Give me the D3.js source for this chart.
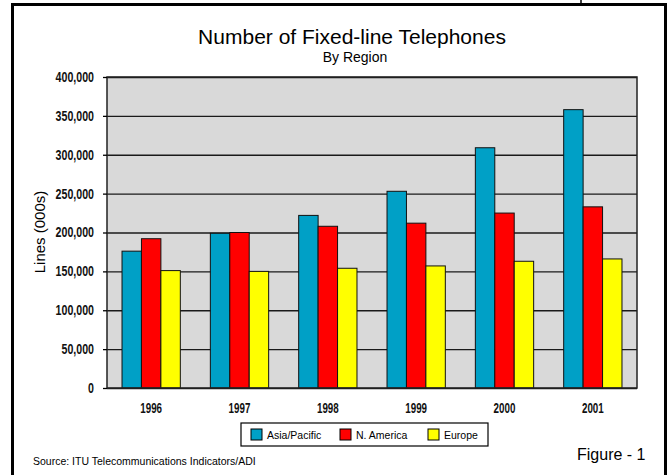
<!DOCTYPE html>
<html>
<head>
<meta charset="utf-8">
<script src="https://cdn.jsdelivr.net/npm/d3@7"></script>
<style>
  body { margin: 0; background: #fff; }
  .tick text { font-family: "Liberation Sans", Arial, sans-serif; font-weight: bold; }
</style>
</head>
<body>
<div id="chart"></div>
<script>
// values in thousands of lines
var years = ['1996', '1997', '1998', '1999', '2000', '2001'];
var series = ['Asia/Pacific', 'N. America', 'Europe'];
var asiaPacific = [176000, 199000, 222000, 253000, 309000, 358000];
var nAmerica = [192000, 200000, 208000, 212000, 225000, 233000];
var europe = [151000, 150000, 154000, 157000, 163000, 166000];
var yTicks = [0, 50000, 100000, 150000, 200000, 250000, 300000, 350000, 400000];
var colors = ['#00a0c6', '#ff0000', '#ffff00'];

var width = 672, height = 475;
var margin = {top: 77, right: 35, bottom: 87, left: 107};

var svg = d3.select('#chart').append('svg')
    .attr('width', width)
    .attr('height', height)
    .style('font-family', 'Liberation Sans, Arial, sans-serif');

// outer frame (open at the bottom, like the scan)
svg.append('path')
    .attr('d', 'M12.5,480 V4.5 H665.5 V480')
    .attr('fill', 'none')
    .attr('stroke', '#000')
    .attr('stroke-width', 3);
svg.append('line')
    .attr('x1', 581).attr('x2', 581).attr('y1', 0).attr('y2', 6)
    .attr('stroke', '#000').attr('stroke-width', 1.5);

svg.append('text')
    .attr('x', 352).attr('y', 44)
    .attr('text-anchor', 'middle')
    .style('font-size', '21px')
    .text('Number of Fixed-line Telephones');
svg.append('text')
    .attr('x', 355).attr('y', 62)
    .attr('text-anchor', 'middle')
    .style('font-size', '14px')
    .text('By Region');

var innerW = width - margin.left - margin.right,
    innerH = height - margin.top - margin.bottom;

var g = svg.append('g').attr('transform', 'translate(' + margin.left + ',' + margin.top + ')');

var x = d3.scaleBand().domain(years).range([0, innerW]).paddingInner(0.34).paddingOuter(0.17);
var x1 = d3.scaleBand().domain(series).range([0, x.bandwidth()]);
var y = d3.scaleLinear().domain([0, 400000]).range([innerH, 0]);

g.append('rect')
    .attr('width', innerW).attr('height', innerH)
    .attr('fill', '#d9d9d9');

// gridlines
g.append('g')
    .call(d3.axisLeft(y).tickValues(yTicks).tickSize(-innerW).tickFormat(''))
    .call(function(s) {
        s.select('.domain').remove();
        s.selectAll('line').attr('stroke', '#1a1a1a').attr('stroke-width', 1.4);
    });

var rows = years.map(function(yr, i) {
    return {year: yr, values: [asiaPacific[i], nAmerica[i], europe[i]]};
});

var groups = g.selectAll('.year').data(rows).enter()
    .append('g')
    .attr('transform', function(d) { return 'translate(' + x(d.year) + ',0)'; });

groups.selectAll('rect')
    .data(function(d) { return d.values.map(function(v, k) { return {key: series[k], value: v, k: k}; }); })
    .enter().append('rect')
    .attr('x', function(d) { return x1(d.key); })
    .attr('y', function(d) { return y(d.value); })
    .attr('width', x1.bandwidth())
    .attr('height', function(d) { return innerH - y(d.value); })
    .attr('fill', function(d) { return colors[d.k]; })
    .attr('stroke', '#111')
    .attr('stroke-width', 1);

// plot border
g.append('rect')
    .attr('width', innerW).attr('height', innerH)
    .attr('fill', 'none')
    .attr('stroke', '#222')
    .attr('stroke-width', 1.5);

// narrow bold tick labels: squeeze a normal bold face sideways
var squeezeY = 0.76, squeezeX = 0.7;

// y axis
g.append('g')
    .call(d3.axisLeft(y).tickValues(yTicks).tickSize(4).tickPadding(9).tickFormat(d3.format(',')))
    .call(function(s) {
        s.select('.domain').remove();
        s.selectAll('line').attr('stroke', '#000').attr('stroke-width', 1.3);
        s.selectAll('text')
            .style('font-size', '14px').attr('fill', '#111')
            .attr('x', -13 / squeezeY)
            .attr('transform', 'scale(' + squeezeY + ',1)');
    });

// x axis
g.append('g')
    .attr('transform', 'translate(0,' + innerH + ')')
    .call(d3.axisBottom(x).tickSize(0).tickPadding(15))
    .call(function(s) {
        s.select('.domain').remove();
        s.selectAll('text')
            .style('font-size', '14px').attr('fill', '#111')
            .attr('transform', 'scale(' + squeezeX + ',1)');
    });

svg.append('text')
    .attr('transform', 'translate(45,232) rotate(-90)')
    .attr('text-anchor', 'middle')
    .style('font-size', '15px')
    .text('Lines (000s)');

// legend
var legend = svg.append('g').attr('transform', 'translate(241,423)');
legend.append('rect')
    .attr('width', 247).attr('height', 23)
    .attr('fill', '#fff').attr('stroke', '#000').attr('stroke-width', 1.2);
var legendX = [10, 99, 187];
series.forEach(function(name, k) {
    legend.append('rect')
        .attr('x', legendX[k]).attr('y', 6)
        .attr('width', 11).attr('height', 11)
        .attr('fill', colors[k]).attr('stroke', '#000');
    legend.append('text')
        .attr('x', legendX[k] + 16).attr('y', 16)
        .style('font-size', '10.5px')
        .text(name);
});

svg.append('text')
    .attr('x', 33).attr('y', 465)
    .style('font-size', '10.5px')
    .text('Source: ITU Telecommunications Indicators/ADI');
svg.append('text')
    .attr('x', 577).attr('y', 460)
    .style('font-size', '16px')
    .text('Figure - 1');
</script>
</body>
</html>
